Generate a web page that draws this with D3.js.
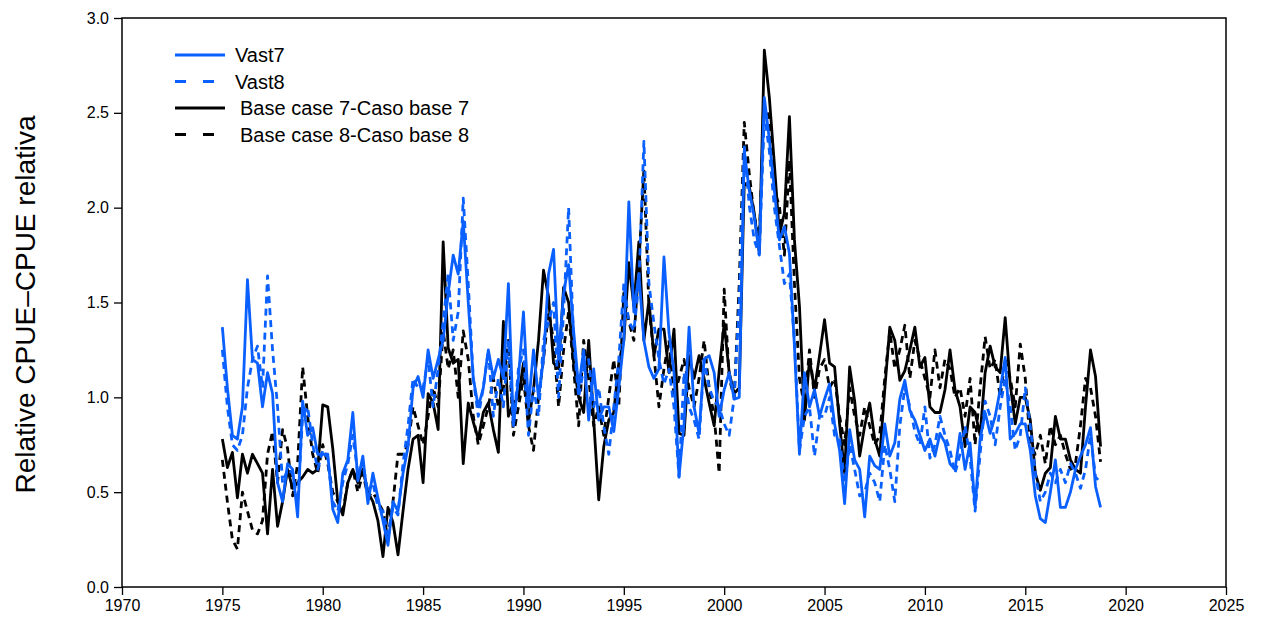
<!DOCTYPE html>
<html>
<head>
<meta charset="utf-8">
<script src="https://cdn.jsdelivr.net/npm/d3@7"></script>
<style>
  body { margin: 0; background: #fff; }
  text { font-family: "Liberation Sans", Arial, sans-serif; fill: #000; }
</style>
</head>
<body>
<div id="chart"></div>
<script>
// quarterly relative CPUE, 1975 Q1 .. 2018 Q4 (4 values per year)
var startYear = 1975;

var vast7 = [
  1.37,1.05,0.80,0.78, 0.95,1.62,1.20,1.18, 0.95,1.13,1.02,0.55, 0.45,0.65,0.62,0.37, 0.98,0.80,0.84,0.70,
  0.70,0.70,0.41,0.34, 0.60,0.67,0.92,0.56, 0.69,0.44,0.60,0.47, 0.35,0.22,0.45,0.40, 0.60,0.74,1.05,1.11,
  1.00,1.25,1.10,1.20, 1.30,1.55,1.75,1.65, 1.93,1.50,1.10,0.95, 1.05,1.25,1.10,1.20, 1.10,1.60,0.85,1.10,
  1.45,0.95,1.25,1.00, 1.20,1.65,1.78,1.20, 1.55,1.70,1.35,1.05, 1.25,0.88,1.15,0.88, 0.95,0.95,0.82,1.05,
  1.30,2.03,1.45,1.65, 1.30,1.16,1.10,1.15, 1.74,1.34,1.13,0.58, 0.86,1.37,0.95,0.81, 1.20,1.22,1.13,0.90,
  1.04,1.13,0.99,1.00, 2.30,2.09,1.95,1.76, 2.58,2.36,2.09,1.83, 1.90,1.76,1.27,0.70, 1.13,0.95,1.04,0.90,
  0.99,1.07,0.86,0.72, 0.44,0.83,0.67,0.62, 0.37,0.69,0.64,0.62, 0.86,0.69,0.76,0.99, 1.09,0.93,0.88,0.80,
  0.72,0.78,0.69,0.81, 0.76,0.65,0.62,0.81, 0.62,0.76,0.42,0.78, 0.92,0.81,0.90,1.04, 1.21,0.78,0.81,0.86,
  0.86,0.72,0.48,0.36, 0.34,0.50,0.67,0.42, 0.42,0.50,0.62,0.69, 0.75,0.84,0.53,0.42
];

var vast8 = [
  1.25,0.95,0.75,0.72, 0.80,1.05,1.20,1.27, 1.05,1.64,1.25,0.95, 0.55,0.62,0.60,0.45, 0.90,0.95,0.75,0.62,
  0.72,0.68,0.45,0.40, 0.55,0.65,0.80,0.60, 0.65,0.50,0.55,0.42, 0.40,0.28,0.42,0.38, 0.65,0.85,1.10,1.05,
  1.05,1.20,0.95,1.15, 1.40,1.65,1.30,1.45, 2.05,1.60,1.10,0.90, 1.05,1.25,0.90,1.10, 0.95,1.30,0.85,1.15,
  1.25,0.80,1.05,0.90, 1.30,1.40,1.50,1.00, 1.45,2.00,1.30,1.00, 1.15,1.20,0.95,1.05, 0.85,0.70,0.95,1.20,
  1.60,1.40,1.35,1.60, 2.35,1.60,1.39,1.20, 1.07,1.15,0.95,0.58, 1.13,0.95,0.88,0.78, 1.20,1.05,0.98,0.95,
  0.86,0.80,1.00,1.50, 2.32,2.01,1.83,1.75, 2.50,2.30,2.00,1.80, 1.60,1.65,1.30,0.72, 0.90,0.95,0.69,0.90,
  0.90,1.00,0.80,0.78, 0.55,0.75,0.62,0.48, 0.50,0.60,0.55,0.45, 0.75,0.62,0.45,0.85, 1.05,0.95,0.82,0.75,
  0.95,0.68,0.75,0.90, 0.80,0.72,0.60,0.70, 0.85,0.68,0.40,0.70, 0.98,0.90,0.75,0.95, 1.10,0.95,0.72,0.80,
  1.05,0.85,0.60,0.45, 0.50,0.60,0.55,0.62, 0.55,0.65,0.60,0.52, 0.62,0.80,0.58,0.55
];

var base7 = [
  0.78,0.63,0.71,0.47, 0.70,0.60,0.70,0.65, 0.60,0.28,0.62,0.32, 0.45,0.62,0.52,0.55, 0.58,0.62,0.60,0.62,
  0.96,0.95,0.73,0.45, 0.38,0.55,0.62,0.55, 0.62,0.50,0.45,0.35, 0.16,0.42,0.34,0.17, 0.40,0.62,0.78,0.80,
  0.55,1.02,0.97,0.83, 1.82,1.26,1.18,1.20, 0.65,0.97,0.87,0.78, 0.92,0.97,0.83,0.71, 1.40,0.90,0.97,1.00,
  1.18,0.87,1.04,1.30, 1.67,1.53,1.18,1.15, 1.58,1.50,1.18,1.00, 0.92,1.30,0.88,0.46, 0.74,0.88,0.92,1.18,
  1.30,1.71,1.48,1.82, 1.30,1.51,1.22,1.36, 1.36,1.13,1.36,0.81, 0.80,1.22,1.10,1.22, 1.10,0.97,0.85,1.14,
  1.39,1.13,1.02,1.05, 2.13,2.11,1.97,1.76, 2.83,2.58,2.23,1.86, 1.97,2.48,1.83,1.48, 0.88,1.20,1.04,1.22,
  1.41,1.18,1.16,0.86, 0.60,1.16,0.98,0.69, 0.85,0.97,0.78,0.69, 1.04,1.37,1.30,1.09, 1.14,1.25,1.37,1.16,
  1.21,0.95,0.92,0.92, 1.04,1.25,1.04,0.95, 0.74,0.95,0.92,0.80, 1.13,1.27,1.16,1.13, 1.42,1.07,0.86,1.00,
  1.00,0.88,0.60,0.51, 0.60,0.63,0.90,0.78, 0.78,0.67,0.62,0.60, 0.95,1.25,1.11,0.74
];

var base8 = [
  0.67,0.45,0.25,0.20, 0.50,0.40,0.30,0.28, 0.35,0.70,0.82,0.55, 0.83,0.73,0.48,0.65, 1.16,0.90,0.70,0.60,
  0.75,0.65,0.50,0.45, 0.40,0.55,0.62,0.50, 0.60,0.48,0.50,0.45, 0.40,0.25,0.45,0.70, 0.70,0.75,0.95,0.85,
  0.75,0.90,1.05,0.95, 1.35,1.15,1.25,1.00, 1.35,1.20,0.90,0.75, 0.85,0.95,1.10,0.95, 1.05,1.30,0.80,0.95,
  1.10,0.85,0.72,1.00, 1.20,1.45,1.30,0.95, 1.25,1.45,1.15,0.85, 1.30,1.10,0.85,0.95, 0.80,1.00,1.20,0.95,
  1.55,1.40,1.30,1.70, 2.20,1.48,1.22,0.95, 1.15,1.30,1.00,1.10, 1.20,1.05,0.95,1.10, 1.30,1.05,0.90,0.60,
  1.57,1.10,1.00,1.60, 2.45,2.18,1.95,1.85, 2.53,2.48,2.09,2.01, 1.75,2.25,1.60,1.10, 0.95,1.25,1.00,1.15,
  1.20,1.05,1.10,0.90, 0.75,1.05,0.90,0.80, 0.95,0.85,0.75,0.80, 1.10,1.35,1.15,1.25, 1.38,1.10,1.30,1.20,
  1.10,1.00,1.25,1.05, 1.20,1.15,1.00,1.05, 0.90,1.10,0.75,1.05, 1.32,1.15,1.20,1.00, 1.20,1.10,0.95,1.28,
  1.10,0.75,0.70,0.80, 0.65,0.85,0.75,0.80, 0.70,0.62,0.65,0.85, 1.10,1.05,0.90,0.66
];

var seriesNames = ["Vast7", "Vast8", "Base case 7-Caso base 7", "Base case 8-Caso base 8"];
var xTicks = [1970, 1975, 1980, 1985, 1990, 1995, 2000, 2005, 2010, 2015, 2020, 2025];
var yTicks = [0.0, 0.5, 1.0, 1.5, 2.0, 2.5, 3.0];

var quarters = vast7.map(function(d, i){ return startYear + i / 4; });

var blue = "#0a60ff";
var series = [
  {name: seriesNames[0], values: vast7, color: blue, dash: null, legendDash: null, lx: 235},
  {name: seriesNames[1], values: vast8, color: blue, dash: "7,5", legendDash: "11,17", lx: 235},
  {name: seriesNames[2], values: base7, color: "#000", dash: null, legendDash: null, lx: 240},
  {name: seriesNames[3], values: base8, color: "#000", dash: "7,5", legendDash: "11,17", lx: 240}
];

var width = 1266, height = 626;
var margin = {left: 122, right: 40, top: 18, bottom: 39};

var svg = d3.select("#chart").append("svg")
    .attr("width", width)
    .attr("height", height);

var x = d3.scaleLinear().domain([1970, 2025]).range([margin.left, width - margin.right]);
var y = d3.scaleLinear().domain([0, 3]).range([height - margin.bottom, margin.top]);

// series lines
var line = d3.line()
    .x(function(d, i){ return x(quarters[i]); })
    .y(function(d){ return y(d); });

series.slice().reverse().forEach(function(s){
    svg.append("path")
        .datum(s.values)
        .attr("d", line)
        .attr("fill", "none")
        .attr("stroke", s.color)
        .attr("stroke-width", 2.8)
        .attr("stroke-linejoin", "round")
        .attr("stroke-dasharray", s.dash);
});

// frame
svg.append("rect")
    .attr("x", x(1970))
    .attr("y", y(3))
    .attr("width", x(2025) - x(1970))
    .attr("height", y(0) - y(3))
    .attr("fill", "none")
    .attr("stroke", "#000")
    .attr("stroke-width", 1.5);

// axes
var xAxis = d3.axisBottom(x).tickValues(xTicks).tickFormat(d3.format("d")).tickSize(8).tickPadding(5);
var yAxis = d3.axisLeft(y).tickValues(yTicks).tickFormat(d3.format(".1f")).tickSize(8).tickPadding(5);

var gx = svg.append("g")
    .attr("transform", "translate(0," + y(0) + ")")
    .call(xAxis);
var gy = svg.append("g")
    .attr("transform", "translate(" + x(1970) + ",0)")
    .call(yAxis);

[gx, gy].forEach(function(g){
    g.select(".domain").remove();
    g.selectAll(".tick line").attr("stroke", "#000").attr("stroke-width", 1.3);
    g.selectAll(".tick text")
        .style("font-family", "'Liberation Sans', Arial, sans-serif")
        .style("font-size", "16px")
        .attr("fill", "#000");
});

// y title
svg.append("text")
    .attr("transform", "translate(35," + ((y(0) + y(3)) / 2 + 2) + ") rotate(-90)")
    .attr("text-anchor", "middle")
    .style("font-size", "28px")
    .text("Relative CPUE\u2013CPUE relativa");

// legend
var legend = svg.append("g");
series.forEach(function(s, i){
    var ly = 55 + i * 26.5;
    legend.append("line")
        .attr("x1", 175).attr("x2", 225)
        .attr("y1", ly).attr("y2", ly)
        .attr("stroke", s.color)
        .attr("stroke-width", 3)
        .attr("stroke-dasharray", s.legendDash);
    legend.append("text")
        .attr("x", s.lx)
        .attr("y", ly + 7)
        .style("font-size", "20px")
        .text(s.name);
});
</script>
</body>
</html>
